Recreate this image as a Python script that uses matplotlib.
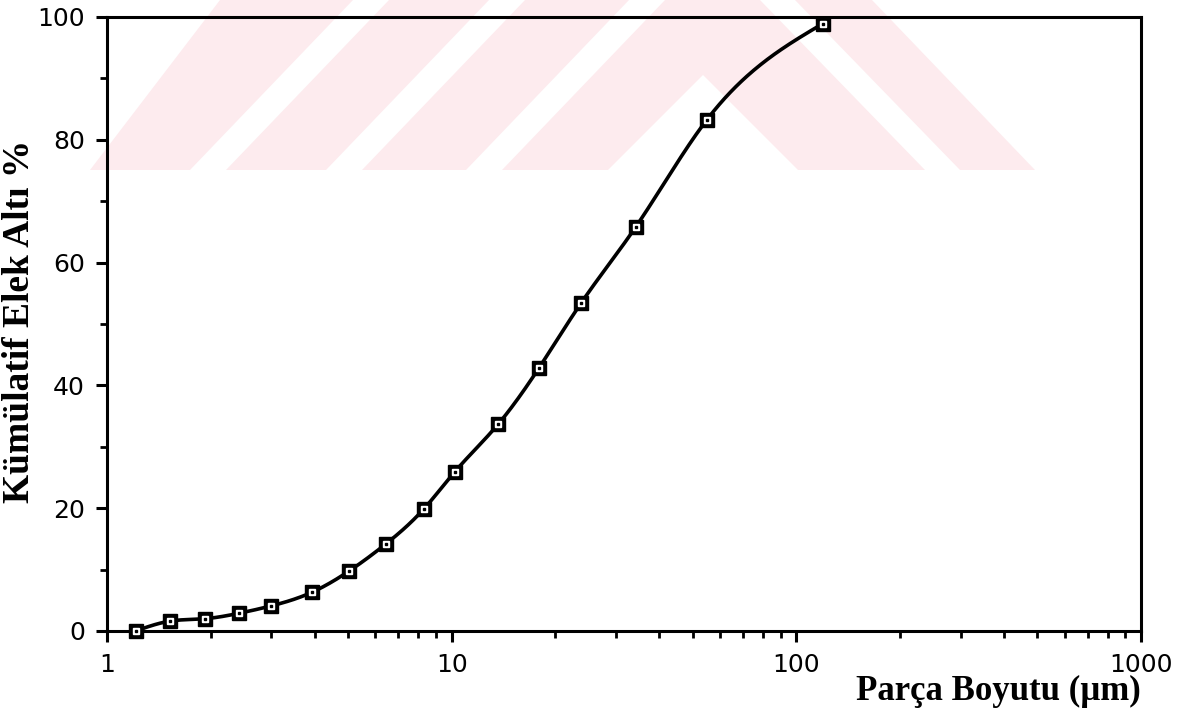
import matplotlib
matplotlib.use('Agg')
import matplotlib.pyplot as plt
from matplotlib.patches import Polygon
from matplotlib.ticker import FixedLocator, NullFormatter
import numpy as np

# particle size (um) and cumulative passing (%)
size_um = [1.21, 1.52, 1.92, 2.42, 3.00, 3.93, 5.05, 6.45, 8.31, 10.2,
           13.65, 17.9, 23.8, 34.2, 54.9, 119.2]
passing = [0.0, 1.6, 2.0, 2.9, 4.1, 6.3, 9.8, 14.2, 19.9, 25.9,
           33.7, 42.8, 53.5, 65.8, 83.2, 98.9]

x_ticks = [1, 10, 100, 1000]
x_tick_labels = ['1', '10', '100', '1000']
y_ticks = [0, 20, 40, 60, 80, 100]

W, H = 1196, 722
PINK = '#fdebee'


def spline(xs, ys, xq):
    """Natural cubic spline through the points, for the smooth line."""
    xs = np.asarray(xs, float)
    ys = np.asarray(ys, float)
    n = len(xs)
    h = np.diff(xs)
    A = np.zeros((n, n))
    r = np.zeros(n)
    A[0, 0] = A[-1, -1] = 1
    for i in range(1, n - 1):
        A[i, i - 1] = h[i - 1]
        A[i, i] = 2 * (h[i - 1] + h[i])
        A[i, i + 1] = h[i]
        r[i] = 6 * ((ys[i + 1] - ys[i]) / h[i] - (ys[i] - ys[i - 1]) / h[i - 1])
    M = np.linalg.solve(A, r)
    idx = np.clip(np.searchsorted(xs, xq) - 1, 0, n - 2)
    x0, x1 = xs[idx], xs[idx + 1]
    hh = h[idx]
    a = (x1 - xq) / hh
    b = (xq - x0) / hh
    return (a * ys[idx] + b * ys[idx + 1]
            + ((a**3 - a) * M[idx] + (b**3 - b) * M[idx + 1]) * hh**2 / 6)


fig = plt.figure(figsize=(W / 100, H / 100), dpi=100)


def fig_poly(pts, color):
    # pts in image pixels (origin top-left)
    p = Polygon([(x / W, 1 - y / H) for x, y in pts], closed=True,
                transform=fig.transFigure, facecolor=color,
                edgecolor='none', zorder=0)
    fig.patches.append(p)


# ---- faint scanned watermark behind the plot ----
fig_poly([(90, 170), (220, 0), (872, 0), (1035, 170)], PINK)
for xb in [190, 326, 466]:
    fig_poly([(xb, 170), (xb + 36, 170), (xb + 199, 0), (xb + 163, 0)], 'white')
fig_poly([(608, 170), (703, 75), (798, 170)], 'white')
fig_poly([(760, 0), (795, 0), (960, 170), (925, 170)], 'white')

ax = fig.add_axes([107 / W, 1 - 631 / H, (1141 - 107) / W, (631 - 17) / H])
ax.set_facecolor('none')
ax.set_zorder(2)

xs_log = np.log10(size_um)
xq = np.linspace(xs_log[0], xs_log[-1], 500)
ax.plot(10**xq, spline(xs_log, passing, xq), color='black', lw=2.6,
        zorder=3, solid_capstyle='round')
ax.plot(size_um, passing, ls='none', marker='s', ms=9.5, mfc='black',
        mec='black', zorder=4, clip_on=False)
ax.plot(size_um, passing, ls='none', marker='s', ms=4.4, mfc='white',
        mec='white', zorder=5, clip_on=False)
ax.plot(size_um, passing, ls='none', marker='s', ms=1.8, mfc='black',
        mec='black', zorder=6, clip_on=False)

ax.set_xscale('log')
ax.set_xlim(1, 1000)
ax.set_ylim(0, 100)
ax.set_xticks(x_ticks)
ax.set_xticklabels(x_tick_labels)
ax.xaxis.set_minor_locator(FixedLocator(
    [k * 10**e for e in range(3) for k in range(2, 10)]))
ax.xaxis.set_minor_formatter(NullFormatter())
ax.set_yticks(y_ticks)
ax.yaxis.set_minor_locator(FixedLocator([10, 30, 50, 70, 90]))

for s in ax.spines.values():
    s.set_linewidth(2.2)
ax.tick_params(which='major', direction='out', length=8, width=2.2,
               labelsize=18, pad=8)
ax.tick_params(which='minor', direction='out', length=5, width=2.0)
ax.tick_params(axis='x', which='major', pad=8)

fig.text(1141 / W, 1 - 700 / H, 'Parça Boyutu (µm)', ha='right',
         va='baseline', fontsize=25, fontweight='bold',
         family='Liberation Serif')
fig.text(20 / W, 1 - 321 / H, 'Kümülatif Elek Altı %', ha='center',
         va='center', rotation=90, fontsize=27, fontweight='bold',
         family='Liberation Serif')

fig.savefig('out.png', dpi=100, facecolor='white')
